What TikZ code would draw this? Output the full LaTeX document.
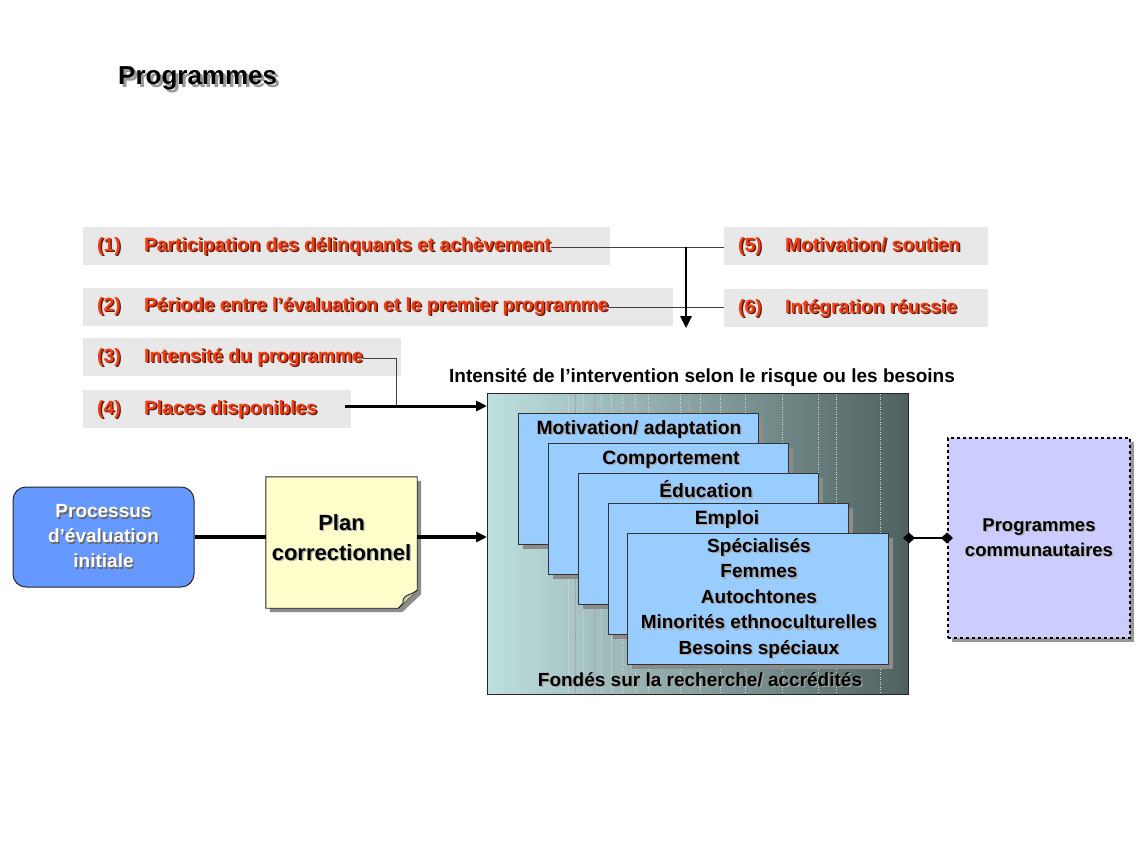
\documentclass[tikz,border=0pt]{standalone}
\usepackage{fontspec}
\setmainfont{Liberation Sans}
\usetikzlibrary{arrows.meta,shadows,calc}
\definecolor{lblred}{HTML}{F43C12}
\definecolor{lblshadow}{HTML}{5A1A0A}
\definecolor{panelgray}{HTML}{E8E8E8}
\definecolor{tealL}{HTML}{BFE0E0}
\definecolor{tealM}{HTML}{92B2AE}
\definecolor{tealR}{HTML}{4E615F}
\definecolor{stackblue}{HTML}{99CCFF}
\definecolor{procblue}{HTML}{6699FF}
\definecolor{noteyellow}{HTML}{FFFFCC}
\definecolor{commlilac}{HTML}{CCCCFF}
% text with a small offset shadow behind it
\newcommand\shadowed[3]{\rlap{\kern1.4pt\raisebox{-1.4pt}{\textcolor{#2}{#3}}}\textcolor{#1}{#3}}
% numbered factor label: fixed-width number, then the text
\newcommand\factortext[2]{\shadowed{lblred}{lblshadow}{\makebox[47pt][l]{#1}#2}}
\tikzset{
  panel/.style={fill=panelgray, draw=none, anchor=north west, inner sep=0pt},
  factor/.style={anchor=west, inner sep=0pt, font=\bfseries\fontsize{19.2}{22}\selectfont},
  stackbox/.style={draw=black!80, line width=1pt, fill=stackblue, anchor=north west, inner sep=0pt,
    minimum width=240pt, minimum height=131pt,
    drop shadow={shadow xshift=4pt, shadow yshift=-4pt, fill=black!45, opacity=1}},
  stacklabel/.style={inner sep=0pt, font=\bfseries\fontsize{19.3}{22}\selectfont},
  thinline/.style={line width=0.9pt, draw=black!75},
  diamondend/.style={fill=black},
}
\begin{document}
\begin{tikzpicture}[x=1pt,y=-1pt]
\useasboundingbox (0,0) rectangle (1138,845);
\fill[white] (0,0) rectangle (1138,845);

% title
\node[anchor=west, inner sep=0pt, font=\bfseries\fontsize{26}{30}\selectfont] (title) at (118,80)
  {\rlap{\kern3pt\raisebox{-3pt}{\textcolor{black!40}{Programmes}}}Programmes};

% grey panels behind the six factors
\node[panel, minimum width=527pt, minimum height=38pt] (g1) at (83,227) {};
\node[panel, minimum width=590pt, minimum height=38pt] (g2) at (83,288) {};
\node[panel, minimum width=318pt, minimum height=38pt] (g3) at (83,338) {};
\node[panel, minimum width=268pt, minimum height=38pt] (g4) at (83,390) {};
\node[panel, minimum width=264pt, minimum height=38pt] (g5) at (724,227) {};
\node[panel, minimum width=264pt, minimum height=38pt] (g6) at (724,289) {};

% factor labels
\node[factor] (t1) at (97,247) {\factortext{(1)}{Participation des délinquants et achèvement}};
\node[factor] (t2) at (97,307) {\factortext{(2)}{Période entre l’évaluation et le premier programme}};
\node[factor] (t3) at (97,358) {\factortext{(3)}{Intensité du programme}};
\node[factor] (t4) at (97,410) {\factortext{(4)}{Places disponibles}};
\node[factor] (t5) at (738,247) {\factortext{(5)}{Motivation/ soutien}};
\node[factor] (t6) at (738,309) {\factortext{(6)}{Intégration réussie}};

% connectors between the factors
\coordinate (j1) at (686,247);
\coordinate (j2) at (686,316);
\draw[thinline] (t1.east) -- (g5.west |- t1.east);
\draw[thinline] (t2.east) -- (g6.west |- t2.east);
\draw[line width=2pt] (j1) -- (j2);
\fill (j2) ++(-6,0) -- ++(12,0) -- ++(-6,12) -- cycle;
\coordinate (c3) at (396,406);
\coordinate (c4) at (345,406);
\draw[thinline] (t3.east) -| (c3);

% main panel
\node[anchor=north west, inner sep=0pt, minimum width=421pt, minimum height=301pt,
  left color=tealL, middle color=tealM, right color=tealR, draw=black!85, line width=1pt] (main) at (487,393) {};
\begin{scope}
  \clip (main.north west) rectangle (main.south east);
  \foreach \x in {568,583,601,611,622,635,648,680,700,720,745,782,818,836,880}
    \draw[white!70!gray, line width=0.5pt, dotted] (\x,394) -- (\x,693);
  \foreach \x in {575,594,628,655,689}
    \draw[black!35, line width=0.4pt] (\x,394) -- (\x,693);
\end{scope}
\node[inner sep=0pt, font=\bfseries\fontsize{19}{22}\selectfont] (head) at (702,378)
  {Intensité de l’intervention selon le risque ou les besoins};
\node[inner sep=0pt, font=\bfseries\fontsize{19}{22}\selectfont] (foot) at (700,680)
  {\shadowed{black}{black!35}{Fondés sur la recherche/ accrédités}};

\draw[line width=3pt, -{Triangle[length=11pt,width=10pt]}] (c4) -- (main.west |- c4);

% stacked programme cards
\node[stackbox] (s1) at (518,413) {};
\node[stackbox] (s2) at (548,443) {};
\node[stackbox] (s3) at (578,473) {};
\node[stackbox] (s4) at (608,503) {};
\node[stackbox, minimum width=261pt] (s5) at (627,533) {};
\node[stacklabel] (l1) at (639,430) {\shadowed{black}{black!35}{Motivation/ adaptation}};
\node[stacklabel] (l2) at (671,460) {\shadowed{black}{black!35}{Comportement}};
\node[stacklabel] (l3) at (706,490) {\shadowed{black}{black!35}{Éducation}};
\node[stacklabel] (l4) at (727,520) {\shadowed{black}{black!35}{Emploi}};
\node[stacklabel, align=center, font=\bfseries\fontsize{19}{25.5}\selectfont] (l5) at (759,599)
  {\shadowed{black}{black!35}{Spécialisés}\\ \shadowed{black}{black!35}{Femmes}\\
   \shadowed{black}{black!35}{Autochtones}\\ \shadowed{black}{black!35}{Minorités ethnoculturelles}\\
   \shadowed{black}{black!35}{Besoins spéciaux}};

% assessment process
\node[draw=black!85, line width=1pt, fill=procblue, rounded corners=13pt, minimum width=181pt, minimum height=100pt,
  align=center, font=\bfseries\fontsize{19}{25}\selectfont] (proc) at (103.5,537)
  {\shadowed{white}{black!60}{Processus}\\ \shadowed{white}{black!60}{d’évaluation}\\ \shadowed{white}{black!60}{initiale}};

% correctional plan note with folded corner
\node[minimum width=151pt, minimum height=131pt, inner sep=0pt] (plan) at (341.5,542.5) {};
\fill[black!45] ($(plan.north west)+(4,4)$) -- ($(plan.north east)+(4,4)$) -- ($(plan.south east)+(4,-14)$)
  -- ($(plan.south east)+(-15,4)$) -- ($(plan.south west)+(4,4)$) -- cycle;
\draw[fill=noteyellow, line width=0.9pt, draw=black!85] (plan.north west) -- (plan.north east) -- ($(plan.south east)+(0,-18)$)
  -- ($(plan.south east)+(-19,0)$) -- (plan.south west) -- cycle;
\draw[fill=black!20!noteyellow, line width=0.9pt, draw=black!85] ($(plan.south east)+(0,-18)$)
  .. controls ($(plan.south east)+(-6,-13)$) and ($(plan.south east)+(-12,-14)$) .. ($(plan.south east)+(-14,-9)$)
  .. controls ($(plan.south east)+(-14,-4)$) .. ($(plan.south east)+(-19,0)$);
\node[align=center, inner sep=0pt, font=\bfseries\fontsize{22}{30}\selectfont] (plantext) at (341.5,538)
  {\shadowed{black}{black!30}{Plan}\\ \shadowed{black}{black!30}{correctionnel}};

\draw[line width=4pt] (proc.east) -- (plan.west |- proc.east);
\draw[line width=4pt, -{Triangle[length=11pt,width=10pt]}] (plan.east |- proc.east) -- (main.west |- proc.east);

% community programmes
\node[draw=black, line width=2pt, dashed, fill=commlilac, minimum width=182pt, minimum height=200pt,
  align=center, font=\bfseries\fontsize{18.5}{25}\selectfont,
  drop shadow={shadow xshift=4pt, shadow yshift=-4pt, fill=black!40, opacity=1}] (comm) at (1039,538)
  {\shadowed{black}{black!30}{Programmes}\\ \shadowed{black}{black!30}{communautaires}};
\coordinate (d1) at (main.east |- comm.west);
\draw[line width=2.5pt] (d1) -- (comm.west);
\fill[diamondend] (d1) ++(-6,0) -- ++(6,-5.5) -- ++(6,5.5) -- ++(-6,5.5) -- cycle;
\fill[diamondend] (comm.west) ++(-6,0) -- ++(6,-5.5) -- ++(6,5.5) -- ++(-6,5.5) -- cycle;
\end{tikzpicture}
\end{document}
